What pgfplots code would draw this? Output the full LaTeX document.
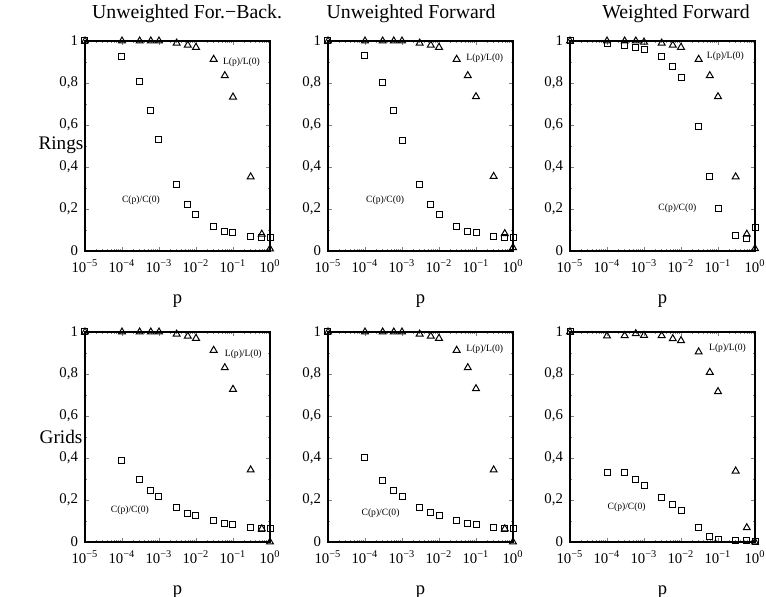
\documentclass[border=0pt]{standalone}
\usepackage{fontspec}
\setmainfont{Liberation Serif}
\usepackage{pgfplots}
\usepackage{pgfplotstable}
\pgfplotsset{compat=1.18}

% columns: p, C(p)/C(0), L(p)/L(0)
\pgfplotstableread{
p     C     L
1e-5  1.000 1.000
1e-4  0.928 1.000
3e-4  0.806 1.000
6e-4  0.668 1.000
1e-3  0.531 1.000
3e-3  0.316 0.990
6e-3  0.221 0.980
1e-2  0.175 0.970
3e-2  0.116 0.913
6e-2  0.095 0.835
1e-1  0.086 0.733
3e-1  0.067 0.353
6e-1  0.064 0.080
1     0.062 0.010
}\ringsUFB
\pgfplotstableread{
p     C     L
1e-5  1.000 1.000
1e-4  0.933 1.000
3e-4  0.803 1.000
6e-4  0.669 1.000
1e-3  0.525 1.000
3e-3  0.316 0.990
6e-3  0.223 0.980
1e-2  0.175 0.970
3e-2  0.116 0.913
6e-2  0.095 0.835
1e-1  0.086 0.735
3e-1  0.068 0.355
6e-1  0.064 0.083
1     0.064 0.016
}\ringsUF
\pgfplotstableread{
p     C     L
1e-5  1.000 1.000
1e-4  0.986 1.000
3e-4  0.979 1.000
6e-4  0.971 1.000
1e-3  0.960 0.995
3e-3  0.924 0.990
6e-3  0.878 0.980
1e-2  0.827 0.970
3e-2  0.591 0.913
6e-2  0.353 0.835
1e-1  0.202 0.735
3e-1  0.072 0.353
6e-1  0.059 0.080
1     0.111 0.011
}\ringsWF
\pgfplotstableread{
p     C     L
1e-5  1.000 1.000
1e-4  0.390 1.000
3e-4  0.298 1.000
6e-4  0.244 1.000
1e-3  0.216 1.000
3e-3  0.163 0.990
6e-3  0.137 0.980
1e-2  0.125 0.970
3e-2  0.100 0.913
6e-2  0.089 0.830
1e-1  0.081 0.727
3e-1  0.068 0.343
6e-1  0.062 0.063
1     0.062 0.000
}\gridsUFB
\pgfplotstableread{
p     C     L
1e-5  1.000 1.000
1e-4  0.403 1.000
3e-4  0.292 1.000
6e-4  0.244 1.000
1e-3  0.216 1.000
3e-3  0.163 0.990
6e-3  0.140 0.980
1e-2  0.125 0.970
3e-2  0.100 0.913
6e-2  0.089 0.830
1e-1  0.082 0.730
3e-1  0.068 0.343
6e-1  0.062 0.063
1     0.062 0.000
}\gridsUF
\pgfplotstableread{
p     C     L
1e-5  1.000 1.000
1e-4  0.329 0.981
3e-4  0.329 0.983
6e-4  0.297 0.992
1e-3  0.267 0.984
3e-3  0.211 0.983
6e-3  0.178 0.968
1e-2  0.151 0.959
3e-2  0.071 0.905
6e-2  0.027 0.808
1e-1  0.014 0.716
3e-1  0.006 0.338
6e-1  0.005 0.068
1     0.003 0.000
}\gridsWF

\pgfplotsset{
  every axis/.append style={
    xmin=1e-5, xmax=1, ymin=0, ymax=1,
    width=92.5pt, height=105pt, scale only axis,
    anchor=south west, clip=false,
    xtick={1e-5,1e-4,1e-3,1e-2,1e-1,1},
    xticklabels={10\textsuperscript{−5},10\textsuperscript{−4},10\textsuperscript{−3},10\textsuperscript{−2},10\textsuperscript{−1},10\textsuperscript{0}},
    minor xtick={2e-5,3e-5,4e-5,5e-5,6e-5,7e-5,8e-5,9e-5,
      2e-4,3e-4,4e-4,5e-4,6e-4,7e-4,8e-4,9e-4,
      2e-3,3e-3,4e-3,5e-3,6e-3,7e-3,8e-3,9e-3,
      2e-2,3e-2,4e-2,5e-2,6e-2,7e-2,8e-2,9e-2,
      0.2,0.3,0.4,0.5,0.6,0.7,0.8,0.9},
    ytick={0,0.2,0.4,0.6,0.8,1},
    yticklabels={0,{0,2},{0,4},{0,6},{0,8},1},
    minor ytick={0.1,0.3,0.5,0.7,0.9},
    tick label style={font=\fontsize{7.4}{8}\selectfont},
    xticklabel style={yshift=-0.8pt},
    xlabel={p},
    xlabel style={font=\fontsize{9.3}{10}\selectfont, at={(axis description cs:0.5,0)}, anchor=center, yshift=-25pt},
    axis line style={line width=0.6pt},
    major tick length=2pt, minor tick length=1.1pt,
  },
  csq/.style={only marks, mark=square, mark size=1.5pt, black, mark options={line width=0.5pt}},
  ltri/.style={only marks, mark=triangle, mark size=2pt, black, mark options={line width=0.5pt}},
}
\tikzset{
  lab/.style={font=\fontsize{4.8}{6}\selectfont, anchor=west, inner sep=0pt},
  hdr/.style={font=\fontsize{9.9}{12}\selectfont},
}

\begin{document}
\begin{tikzpicture}
\useasboundingbox (0,0) rectangle (383pt,-298.5pt);

\node[hdr] at (93.5pt,-7pt) {Unweighted For.−Back.};
\node[hdr] at (205.5pt,-7pt) {Unweighted Forward};
\node[hdr] at (338pt,-7pt) {Weighted Forward};
\node[hdr, font=\fontsize{9.6}{12}\selectfont] at (30.5pt,-72.5pt) {Rings};
\node[hdr, font=\fontsize{9.6}{12}\selectfont] at (30.5pt,-218.5pt) {Grids};

% Rings
\begin{semilogxaxis}[at={(42.5pt,-125.5pt)}]
\addplot[csq] table[x=p, y=C] {\ringsUFB};
\addplot[ltri] table[x=p, y=L] {\ringsUFB};
\node[lab] at (axis cs:0.0525,0.898) {L(p)/L(0)};
\node[lab] at (axis cs:9.8e-5,0.242) {C(p)/C(0)};
\end{semilogxaxis}
\begin{semilogxaxis}[at={(164pt,-125.5pt)}]
\addplot[csq] table[x=p, y=C] {\ringsUF};
\addplot[ltri] table[x=p, y=L] {\ringsUF};
\node[lab] at (axis cs:0.0537,0.917) {L(p)/L(0)};
\node[lab] at (axis cs:1.05e-4,0.242) {C(p)/C(0)};
\end{semilogxaxis}
\begin{semilogxaxis}[at={(285pt,-125.5pt)}]
\addplot[csq] table[x=p, y=C] {\ringsWF};
\addplot[ltri] table[x=p, y=L] {\ringsWF};
\node[lab] at (axis cs:0.049,0.93) {L(p)/L(0)};
\node[lab] at (axis cs:2.4e-3,0.202) {C(p)/C(0)};
\end{semilogxaxis}

% Grids
\begin{semilogxaxis}[at={(42.5pt,-271pt)}]
\addplot[csq] table[x=p, y=C] {\gridsUFB};
\addplot[ltri] table[x=p, y=L] {\gridsUFB};
\node[lab] at (axis cs:0.0589,0.895) {L(p)/L(0)};
\node[lab] at (axis cs:4.9e-5,0.151) {C(p)/C(0)};
\end{semilogxaxis}
\begin{semilogxaxis}[at={(164pt,-271pt)}]
\addplot[csq] table[x=p, y=C] {\gridsUF};
\addplot[ltri] table[x=p, y=L] {\gridsUF};
\node[lab] at (axis cs:0.0537,0.919) {L(p)/L(0)};
\node[lab] at (axis cs:7.9e-5,0.138) {C(p)/C(0)};
\end{semilogxaxis}
\begin{semilogxaxis}[at={(285pt,-271pt)}]
\addplot[csq] table[x=p, y=C] {\gridsWF};
\addplot[ltri] table[x=p, y=L] {\gridsWF};
\node[lab] at (axis cs:0.0562,0.925) {L(p)/L(0)};
\node[lab] at (axis cs:1.02e-4,0.167) {C(p)/C(0)};
\end{semilogxaxis}
\end{tikzpicture}
\end{document}
